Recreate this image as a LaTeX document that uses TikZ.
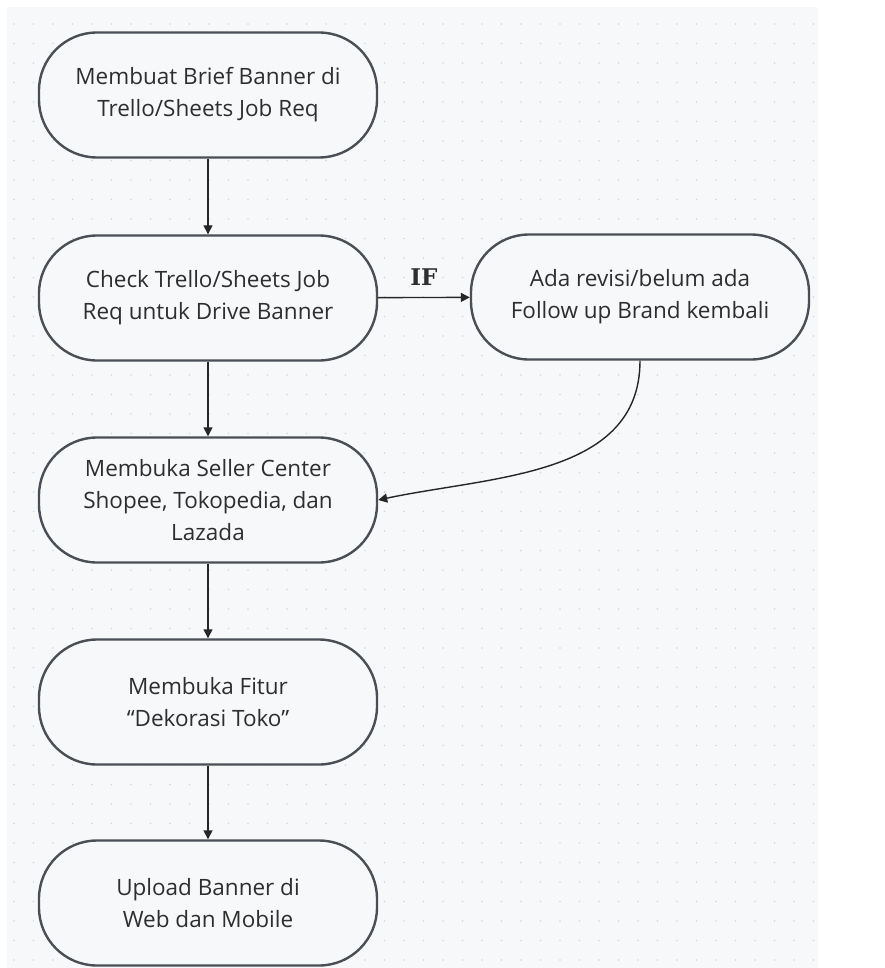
\documentclass[tikz,border=0pt]{standalone}
\usepackage{fontspec}
\setmainfont{Open Sans}
\newfontfamily\iffont{DejaVu Serif}
\usetikzlibrary{arrows.meta}
\definecolor{panel}{HTML}{F7F8F9}
\definecolor{dotc}{HTML}{D3D7DC}
\definecolor{edgec}{HTML}{4A4F55}
\definecolor{txt}{HTML}{2E2E2E}
\tikzset{
  proc/.style={draw=edgec, line width=2.4pt, fill=panel, rounded corners=58pt,
    minimum width=338pt, minimum height=125pt, align=center, text=txt,
    font=\fontsize{22.5}{32}\selectfont},
  conn/.style={draw=black!85, line width=1.4pt, -{Triangle[length=9pt,width=9pt]}}
}
\begin{document}
\begin{tikzpicture}[x=1pt,y=-1pt]
\useasboundingbox (0,0) rectangle (885,968);
\fill[white] (0,0) rectangle (885,968);
\fill[panel] (7,7) rectangle (818,968);
\foreach \i in {0,...,41} {
  \foreach \j in {0,...,49} {
    \fill[dotc] (14+\i*19.5, 24+\j*19.5) circle (0.9pt);
  }
}
\node[proc] (n1) at (208,95) {Membuat Brief Banner di\\Trello/Sheets Job Req};
\node[proc] (n2) at (208,298) {Check Trello/Sheets Job\\Req untuk Drive Banner};
\node[proc] (nr) at (640,297) {Ada revisi/belum ada\\Follow up Brand kembali};
\node[proc] (n3) at (208,500) {Membuka Seller Center\\Shopee, Tokopedia, dan\\Lazada};
\node[proc] (n4) at (208,702) {Membuka Fitur\\“Dekorasi Toko”};
\node[proc] (n5) at (208,903) {Upload Banner di\\Web dan Mobile};
\draw[conn] (n1) -- (n2);
\draw[conn] (n2) -- node[above=8pt, text=txt, font=\fontsize{23}{26}\iffont\bfseries] (iflab) {IF} (nr);
\draw[conn] (n2) -- (n3);
\draw[conn] (n3) -- (n4);
\draw[conn] (n4) -- (n5);
\draw[conn] (nr.south) to[out=-90, in=12] (n3.east);
\end{tikzpicture}
\end{document}
